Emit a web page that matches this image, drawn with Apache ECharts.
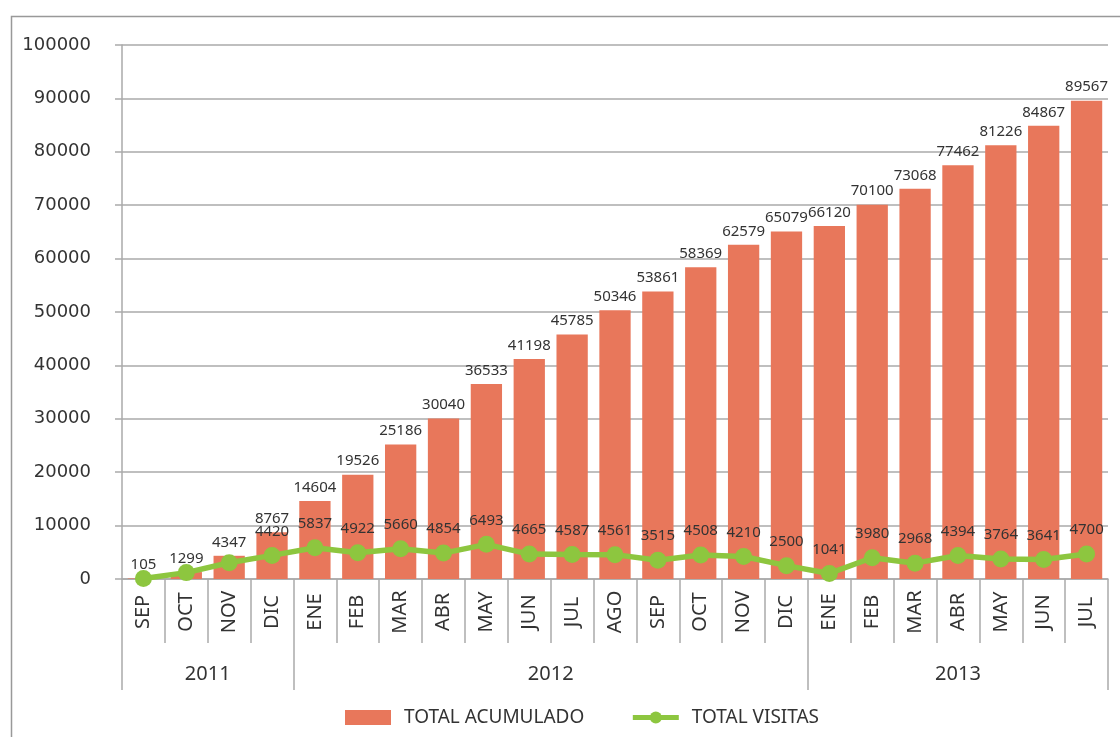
<!DOCTYPE html>
<html lang="es">
<head>
<meta charset="UTF-8" />
<title>Visitas</title>
<style>
  html, body { margin: 0; padding: 0; background: #fff; }
  #chart { width: 1120px; height: 737px; }
</style>
</head>
<body>
<div id="chart"></div>
<script src="https://cdn.jsdelivr.net/npm/echarts@6/dist/echarts.min.js"></script>
<script>
// meses (sep 2011 - jul 2013)
var meses = ['SEP', 'OCT', 'NOV', 'DIC', 'ENE', 'FEB', 'MAR', 'ABR', 'MAY', 'JUN', 'JUL', 'AGO',
  'SEP', 'OCT', 'NOV', 'DIC', 'ENE', 'FEB', 'MAR', 'ABR', 'MAY', 'JUN', 'JUL'];
var totalAcumulado = [105, 1299, 4347, 8767, 14604, 19526, 25186, 30040, 36533, 41198, 45785, 50346,
  53861, 58369, 62579, 65079, 66120, 70100, 73068, 77462, 81226, 84867, 89567];
var totalVisitas = [105, 1194, 3048, 4420, 5837, 4922, 5660, 4854, 6493, 4665, 4587, 4561,
  3515, 4508, 4210, 2500, 1041, 3980, 2968, 4394, 3764, 3641, 4700];
// años: nombre, posicion del texto y limites (en meses)
var anios = ['2011', '2012', '2013'];
var anioCentro = [2, 10, 19.5];
var anioLimites = [0, 4, 16, 23];

var gris = '#aaa';
var font = 'Noto Sans';

var chart = echarts.init(document.getElementById('chart'));

var option = {
  backgroundColor: '#fff',
  animation: false,
  textStyle: { fontFamily: font },
  graphic: [{
    type: 'rect',
    left: 9, top: 14,
    shape: { width: 1200, height: 800 },
    style: { fill: 'none', stroke: '#999', lineWidth: 1.5 },
    silent: true
  }],
  legend: {
    left: 340, top: 703,
    itemWidth: 46, itemHeight: 15, itemGap: 46,
    textStyle: { fontSize: 19, color: '#333', fontFamily: font, padding: [0, 0, 0, 8] },
    data: [
      { name: 'TOTAL ACUMULADO', icon: 'rect' },
      { name: 'TOTAL VISITAS', lineStyle: { width: 5 } }
    ]
  },
  grid: { left: 122, right: 12, top: 45, bottom: 158 },
  xAxis: [{
    type: 'category',
    data: meses,
    axisLine: { lineStyle: { color: gris, width: 1.5 } },
    axisTick: { show: true, interval: 0, length: 64, lineStyle: { color: gris, width: 1.5 } },
    axisLabel: {
      interval: 0, rotate: 90, align: 'center', margin: 33,
      fontSize: 20, color: '#333', fontFamily: font
    }
  }, {
    type: 'value',
    position: 'bottom',
    offset: 64,
    min: 0, max: 23,
    axisLine: { show: false },
    splitLine: { show: false },
    axisTick: { show: true, customValues: anioLimites, length: 47, lineStyle: { color: gris, width: 1.5 } },
    axisLabel: {
      customValues: anioCentro,
      margin: 21, fontSize: 20, color: '#333', fontFamily: font,
      formatter: function (v) {
        var i = anioCentro.indexOf(v);
        return i >= 0 ? anios[i] : '';
      }
    }
  }],
  yAxis: {
    type: 'value',
    min: 0, max: 100000, interval: 10000,
    axisLine: { show: true, lineStyle: { color: gris, width: 1.5 } },
    axisTick: { show: true, length: 7, lineStyle: { color: gris, width: 1.5 } },
    splitLine: { lineStyle: { color: gris, width: 1.5 } },
    axisLabel: {
      margin: 31, fontSize: 18, color: '#333', fontFamily: 'DejaVu Sans',
      formatter: function (v) { return String(v); }
    }
  },
  series: [{
    name: 'TOTAL ACUMULADO',
    type: 'bar',
    xAxisIndex: 0,
    data: totalAcumulado,
    barCategoryGap: '27%',
    itemStyle: { color: '#E8775B' },
    label: { show: true, position: 'top', distance: 6, fontSize: 15, color: '#333', fontFamily: font }
  }, {
    name: 'TOTAL VISITAS',
    type: 'line',
    xAxisIndex: 0,
    data: totalVisitas.map(function (v, i) {
      // los tres primeros meses ya muestran la etiqueta de la barra
      return i < 3 ? { value: v, label: { show: false } } : v;
    }),
    symbol: 'circle',
    symbolSize: 17,
    itemStyle: { color: '#8DC63F' },
    lineStyle: { color: '#8DC63F', width: 5.5 },
    label: { show: true, position: 'top', distance: 8, fontSize: 15, color: '#333', fontFamily: font },
    z: 5
  }]
};

chart.setOption(option);
</script>
</body>
</html>
